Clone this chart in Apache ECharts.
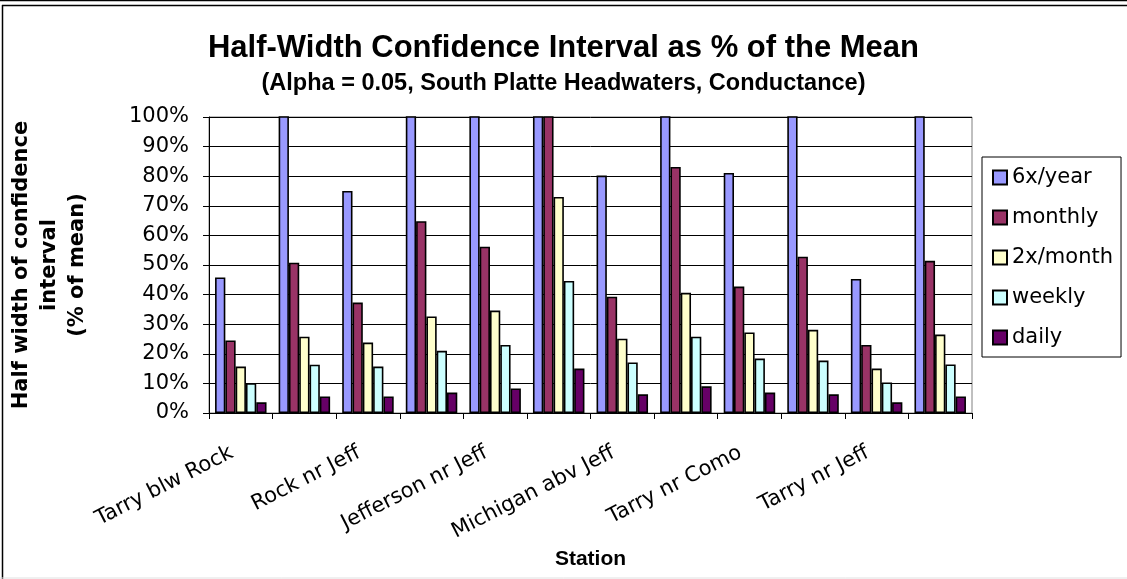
<!DOCTYPE html>
<html>
<head>
<meta charset="utf-8">
<script src="https://cdn.jsdelivr.net/npm/echarts@6/dist/echarts.min.js"></script>
<style>
html,body{margin:0;padding:0;background:#fff;}
#chart{width:1127px;height:579px;}
</style>
</head>
<body>
<div id="chart"></div>
<script>
// Stations (only every other name is printed on the axis of the original chart)
const categories = ['Tarry blw Rock', '(station 2)', 'Rock nr Jeff', '(station 4)', 'Jefferson nr Jeff', '(station 6)',
  'Michigan abv Jeff', '(station 8)', 'Tarry nr Como', '(station 10)', 'Tarry nr Jeff', '(station 12)'];
const seriesNames = ['6x/year', 'monthly', '2x/month', 'weekly', 'daily'];
// Half-width of the confidence interval, % of mean (values above 100 run off the axis and are clipped)
const sixPerYear = [45.8, 120, 75.0, 120, 120, 120, 80.2, 120, 81.1, 120, 45.3, 120];
const monthly    = [24.5, 50.8, 37.3, 64.8, 56.2, 120, 39.3, 83.1, 42.7, 52.8, 23.0, 51.4];
const twoPerMonth= [15.7, 25.8, 23.8, 32.6, 34.6, 73.0, 25.1, 40.6, 27.2, 28.1, 15.0, 26.5];
const weekly     = [10.1, 16.3, 15.7, 21.0, 23.0, 44.6, 17.1, 25.8, 18.4, 17.7, 10.3, 16.4];
const daily      = [3.6, 5.6, 5.6, 6.9, 8.3, 15.0, 6.3, 9.0, 6.9, 6.3, 3.6, 5.6];
const yTicks = { min: 0, max: 100, interval: 10 };

const colors = ['#9999FF', '#993366', '#FFFFCC', '#CCFFFF', '#660066'];
const values = [sixPerYear, monthly, twoPerMonth, weekly, daily];

const chart = echarts.init(document.getElementById('chart'), null, { renderer: 'canvas' });
chart.setOption({
  backgroundColor: '#fff',
  animation: false,
  title: {
    text: 'Half-Width Confidence Interval as % of the Mean',
    subtext: '(Alpha = 0.05, South Platte Headwaters, Conductance)',
    left: 'center',
    top: 33,
    padding: 0,
    itemGap: 8,
    textStyle: { fontFamily: 'Liberation Sans', fontWeight: 'bold', fontSize: 31, color: '#000' },
    subtextStyle: { fontFamily: 'Liberation Sans', fontWeight: 'bold', fontSize: 23.5, color: '#000' }
  },
  legend: {
    orient: 'vertical',
    left: 982,
    top: 157,
    padding: [10, 8, 9, 10],
    itemWidth: 14,
    itemHeight: 14,
    itemGap: 19,
    icon: 'rect',
    borderColor: '#000',
    borderWidth: 1,
    textStyle: { fontFamily: 'DejaVu Sans', fontSize: 21, color: '#000' },
    data: seriesNames
  },
  grid: {
    left: 209, right: 155, top: 117, bottom: 166,
    containLabel: false,
    outerBoundsMode: 'none',
    show: true,
    borderColor: '#808080',
    borderWidth: 1,
    backgroundColor: '#fff'
  },
  xAxis: {
    type: 'category',
    data: categories,
    name: 'Station',
    nameLocation: 'middle',
    nameGap: 131,
    nameTextStyle: { fontFamily: 'Liberation Sans', fontWeight: 'bold', fontSize: 21, color: '#000' },
    axisLine: { show: true, lineStyle: { color: '#000', width: 1 } },
    axisTick: { show: true, interval: 0, length: 6, inside: false, lineStyle: { color: '#000' } },
    axisLabel: {
      interval: 1,
      rotate: 27,
      margin: 34,
      padding: [0, 10, 0, 0],
      fontFamily: 'DejaVu Sans',
      fontSize: 21,
      color: '#000'
    },
    splitLine: { show: false }
  },
  yAxis: {
    type: 'value',
    min: yTicks.min,
    max: yTicks.max,
    interval: yTicks.interval,
    name: 'Half width of confidence\ninterval\n(% of mean)',
    nameLocation: 'middle',
    nameGap: 117,
    nameTextStyle: { fontFamily: 'DejaVu Sans', fontWeight: 'bold', fontSize: 21, color: '#000', lineHeight: 28, align: 'center' },
    axisLine: { show: true, lineStyle: { color: '#000', width: 1 } },
    axisTick: { show: true, length: 6, inside: false, lineStyle: { color: '#000' } },
    axisLabel: {
      formatter: '{value}%',
      margin: 20,
      fontFamily: 'DejaVu Sans',
      fontSize: 21,
      color: '#000'
    },
    splitLine: { show: true, lineStyle: { color: '#000', width: 1 } }
  },
  series: seriesNames.map((name, i) => ({
    name: name,
    type: 'bar',
    data: values[i],
    barGap: '0%',
    barCategoryGap: '19%',
    clip: true,
    itemStyle: { color: colors[i], borderColor: '#000', borderWidth: 1.6 }
  })),
  graphic: [
    { type: 'line', shape: { x1: 0, y1: 0.5, x2: 1127, y2: 0.5 }, style: { stroke: '#000', lineWidth: 1.5 } },
    { type: 'line', shape: { x1: 2, y1: 5.5, x2: 1127, y2: 5.5 }, style: { stroke: '#000', lineWidth: 1.5 } },
    { type: 'line', shape: { x1: 2.5, y1: 5, x2: 2.5, y2: 579 }, style: { stroke: '#000', lineWidth: 1.5 } },
    { type: 'line', shape: { x1: 0, y1: 578, x2: 1127, y2: 578 }, style: { stroke: '#e0e0e0', lineWidth: 1 } }
  ]
});
</script>
</body>
</html>
